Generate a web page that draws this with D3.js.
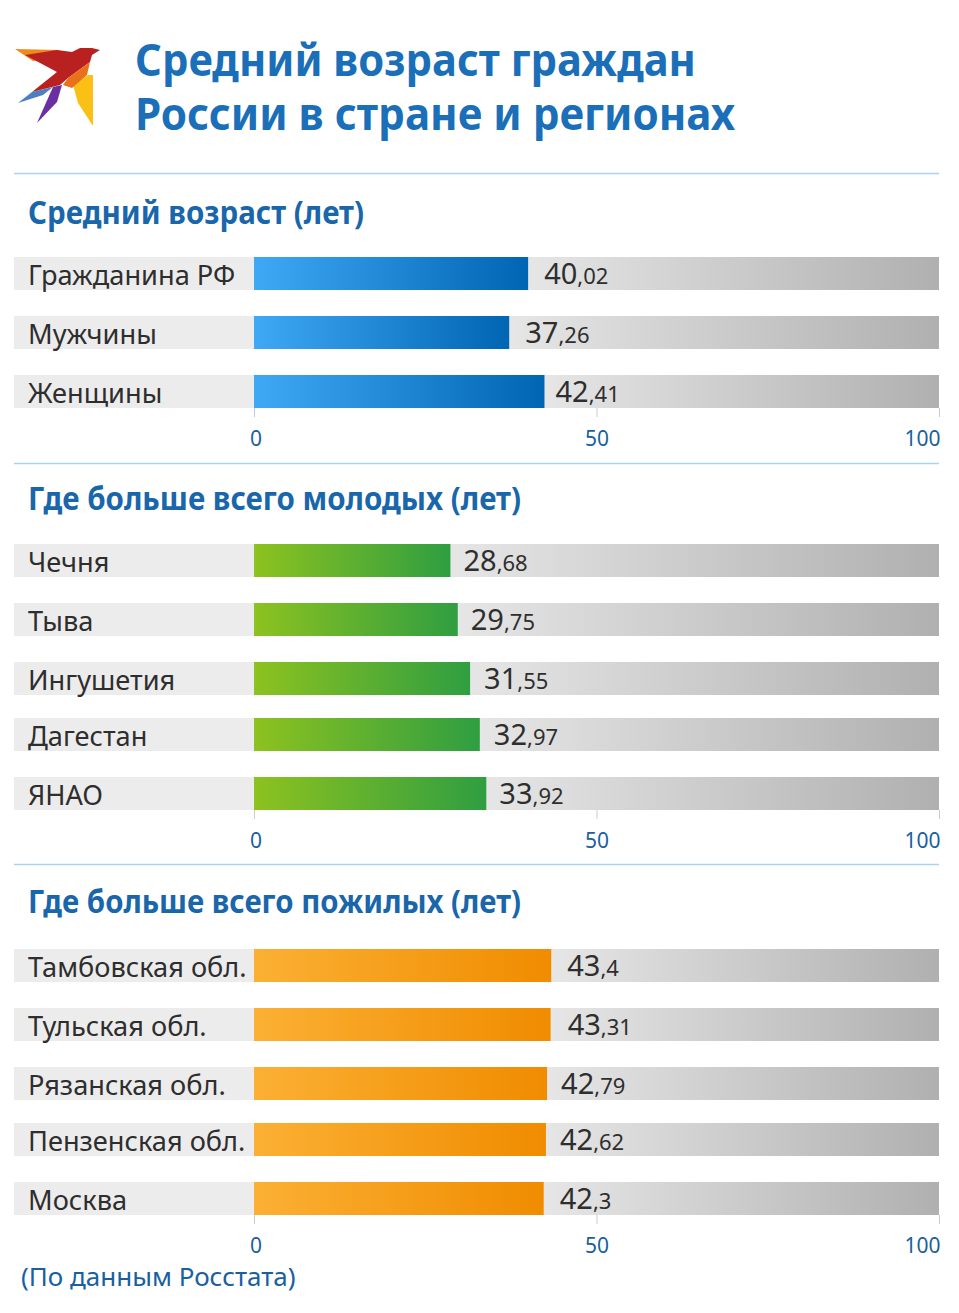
<!DOCTYPE html>
<html>
<head>
	<meta charset="utf-8">
	<title>Средний возраст граждан России</title>
	<script src="https://d3js.org/d3.v7.min.js"></script>
	<style type="text/css">
		html, body {
			margin: 0;
			padding: 0;
			background: #fff;
		}
		svg {
			display: block;
			font-family: "Noto Sans", sans-serif;
		}
	</style>
</head>
<body>
<div id="chart"></div>
<script type="text/javascript">
	// values
	var titleLines = ["Средний возраст граждан", "России в стране и регионах"];
	var sourceNote = "(По данным Росстата)";

	var panelTitles = ["Средний возраст (лет)", "Где больше всего молодых (лет)", "Где больше всего пожилых (лет)"];

	var ageCategories = ["Гражданина РФ", "Мужчины", "Женщины"];
	var ageValues = [40.02, 37.26, 42.41];
	var ageLabels = ["40,02", "37,26", "42,41"];

	var youngCategories = ["Чечня", "Тыва", "Ингушетия", "Дагестан", "ЯНАО"];
	var youngValues = [28.68, 29.75, 31.55, 32.97, 33.92];
	var youngLabels = ["28,68", "29,75", "31,55", "32,97", "33,92"];

	var oldCategories = ["Тамбовская обл.", "Тульская обл.", "Рязанская обл.", "Пензенская обл.", "Москва"];
	var oldValues = [43.4, 43.31, 42.79, 42.62, 42.3];
	var oldLabels = ["43,4", "43,31", "42,79", "42,62", "42,3"];

	var tickValues = [0, 50, 100];

	// layout only: rows in the picture are not evenly spaced
	var panels = [
		{title: panelTitles[0], cats: ageCategories, vals: ageValues, labels: ageLabels,
			titleY: 224, tops: [257, 316, 375], bottom: 408, from: "#3fa9f5", to: "#0065b3", line: 173,
			titleWidth: 336, gaps: [16, 16, 11]},
		{title: panelTitles[1], cats: youngCategories, vals: youngValues, labels: youngLabels,
			titleY: 510, tops: [544, 603, 662, 718, 777], bottom: 810, from: "#8dc21f", to: "#2f9e41", line: 463,
			titleWidth: 493, gaps: [13, 13, 14, 14, 13]},
		{title: panelTitles[2], cats: oldCategories, vals: oldValues, labels: oldLabels,
			titleY: 913, tops: [949, 1008, 1067, 1123, 1182], bottom: 1215, from: "#fbb034", to: "#f08c00", line: 864,
			titleWidth: 493, gaps: [16, 17, 14, 14, 16]}
	];

	var rowHeight = 33;

	var svg = d3.select("#chart").append("svg")
		.attr("width", 959)
		.attr("height", 1313);

	var defs = svg.append("defs");

	var addGradient = function(id, from, to) {
		var g = defs.append("linearGradient").attr("id", id);
		g.append("stop").attr("offset", "0%").attr("stop-color", from);
		g.append("stop").attr("offset", "100%").attr("stop-color", to);
	};

	addGradient("track", "#e6e6e6", "#b0b0b0");

	var x = d3.scaleLinear().domain([0, 100]).range([254, 939]);

	// squeeze text horizontally to the width it has in the picture
	var fit = function(sel, width) {
		sel.attr("textLength", width).attr("lengthAdjust", "spacingAndGlyphs");
	};

	// header
	svg.append("text").attr("x", 135).attr("y", 76)
		.attr("font-size", 45).attr("font-weight", 700).attr("fill", "#1a6fb8")
		.text(titleLines[0]).call(fit, 561);
	svg.append("text").attr("x", 135).attr("y", 130)
		.attr("font-size", 45).attr("font-weight", 700).attr("fill", "#1a6fb8")
		.text(titleLines[1]).call(fit, 600);

	// logo
	var bird = svg.append("g");
	bird.append("path").attr("fill", "#f08a1d").attr("d", "M15 49 L60 50 L40 60 L33 61 Z");
	bird.append("path").attr("fill", "#4a7fc1").attr("d", "M18 103 L32 92 L53 87 L43 95 Z");
	bird.append("path").attr("fill", "#6a2fa0").attr("d", "M37 123 L53 87 L62 85 L57 102 Z");
	bird.append("path").attr("fill", "#fbc015").attr("d", "M73 85 L88 75 L93 75 L93 126 L78 103 Z");
	bird.append("path").attr("fill", "#b8211f").attr("d", "M25 55 L57 50 L72 52 L80 48 L92 48 L100 50 L92 55 L90 62 L68 78 L60 85 L32 92 L57 72 Z");
	bird.append("path").attr("fill", "#e8721c").attr("d", "M90 62 L87 75 L72 88 L63 85 L68 78 Z");

	panels.forEach(function(p, pi) {
		var gid = "bar" + pi;
		addGradient(gid, p.from, p.to);

		svg.append("line")
			.attr("x1", 14).attr("x2", 939)
			.attr("y1", p.line + 0.5).attr("y2", p.line + 0.5)
			.attr("stroke", "#a9d4ef")
			.attr("stroke-width", 1.5);

		svg.append("text")
			.attr("x", 28).attr("y", p.titleY)
			.attr("font-size", 32).attr("font-weight", 700).attr("fill", "#1a66ab")
			.text(p.title)
			.call(fit, p.titleWidth);

		var y = d3.scaleOrdinal().domain(p.cats).range(p.tops);

		var rows = svg.append("g").selectAll("g")
			.data(p.cats)
			.join("g")
			.attr("transform", function(d) { return "translate(0," + y(d) + ")"; });

		// grey strip behind the label
		rows.append("rect")
			.attr("x", 14).attr("width", x(0) - 14)
			.attr("height", rowHeight)
			.attr("fill", "#ececec");

		// the rest of the track has its own gradient from the end of the bar
		rows.append("rect")
			.attr("x", function(d, i) { return x(p.vals[i]); })
			.attr("width", function(d, i) { return x(100) - x(p.vals[i]); })
			.attr("height", rowHeight)
			.attr("fill", "url(#track)");

		rows.append("rect")
			.attr("x", x(0))
			.attr("width", function(d, i) { return x(p.vals[i]) - x(0); })
			.attr("height", rowHeight)
			.attr("fill", "url(#" + gid + ")");

		rows.append("text")
			.attr("x", 28).attr("y", 28)
			.attr("font-size", 27.2).attr("fill", "#2e2e2e")
			.text(function(d) { return d; });

		var valueText = rows.append("text")
			.attr("x", function(d, i) { return x(p.vals[i]) + p.gaps[i]; })
			.attr("y", 27)
			.attr("fill", "#2e2e2e");
		valueText.append("tspan")
			.attr("font-size", 29)
			.text(function(d, i) { return p.labels[i].split(",")[0]; });
		valueText.append("tspan")
			.attr("font-size", 22)
			.text(function(d, i) { return "," + p.labels[i].split(",")[1]; });

		// axis under the rows
		var axis = svg.append("g")
			.attr("transform", "translate(0," + p.bottom + ")")
			.call(d3.axisBottom(x).tickValues(tickValues).tickSize(9).tickPadding(14));
		axis.select(".domain").remove();
		axis.selectAll("line").attr("stroke", "#ccc");
		axis.selectAll("text")
			.attr("font-family", "Noto Sans")
			.attr("font-size", 21)
			.attr("fill", "#1a5f9e")
			.attr("text-anchor", function(d) { return d == 100 ? "end" : "middle"; })
			.attr("dx", function(d) { return d == 100 ? 1 : (d == 0 ? 1.5 : 0); });
	});

	svg.append("text")
		.attr("x", 21).attr("y", 1286)
		.attr("font-size", 26).attr("fill", "#1a5f9e")
		.text(sourceNote);
</script>
</body>
</html>
